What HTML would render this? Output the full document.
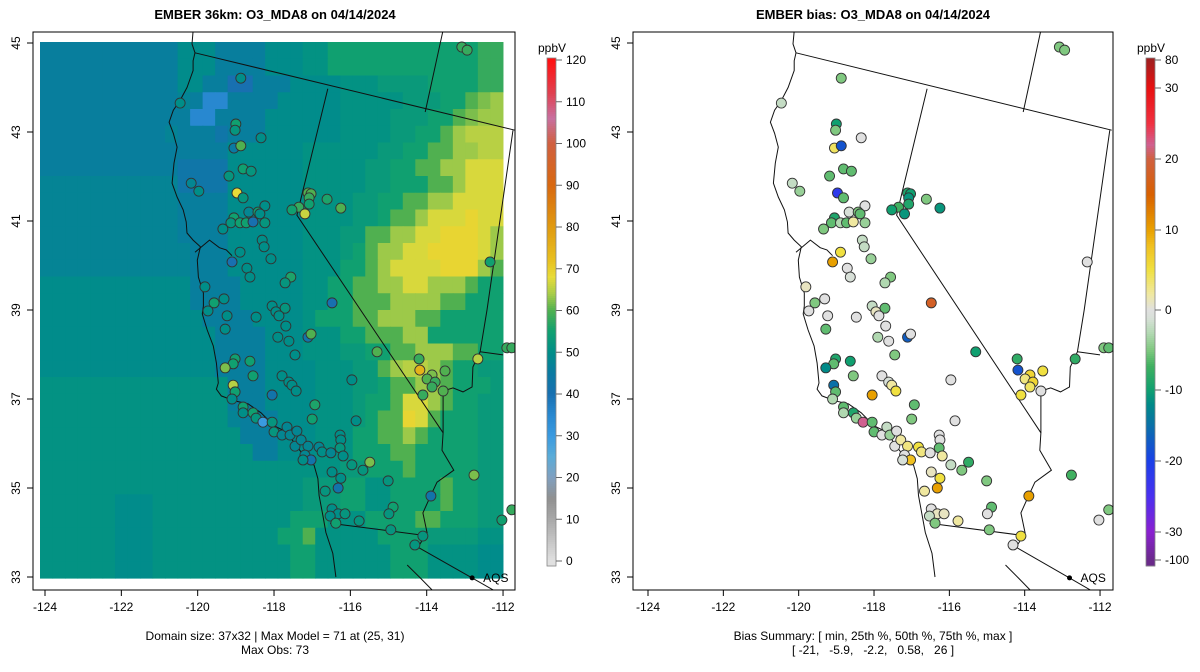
<!DOCTYPE html>
<html><head><meta charset="utf-8"><title>EMBER O3_MDA8</title>
<style>
html,body{margin:0;padding:0;background:#fff;}
svg{display:block;font-family:"Liberation Sans",sans-serif;}
</style></head>
<body>
<svg id="fig" width="1200" height="672" viewBox="0 0 1200 672">
  <defs>
    <clipPath id="clipL"><rect x="33" y="32" width="482" height="558"/></clipPath>
    <clipPath id="clipR"><rect x="633" y="32" width="480" height="558"/></clipPath>
  </defs>
  <text x="275" y="19" text-anchor="middle" font-size="13" font-weight="bold">EMBER 36km: O3_MDA8 on 04/14/2024</text>
  <text x="873" y="19" text-anchor="middle" font-size="13" font-weight="bold">EMBER bias: O3_MDA8 on 04/14/2024</text>
  <g id="heat" clip-path="url(#clipL)"></g>
  <g id="geoL" clip-path="url(#clipL)"></g>
  <g id="geoR" clip-path="url(#clipR)"></g>
  <g id="ptsL" clip-path="url(#clipL)"></g>
  <g id="ptsR" clip-path="url(#clipR)"></g>
  <g id="axes"></g>
  <g id="cbL"></g>
  <g id="cbR"></g>
  <text x="275" y="640" text-anchor="middle" font-size="12">Domain size: 37x32 | Max Model = 71 at (25, 31)</text>
  <text x="275" y="654" text-anchor="middle" font-size="12">Max Obs: 73</text>
  <text x="873" y="640" text-anchor="middle" font-size="12">Bias Summary: [ min, 25th %, 50th %, 75th %, max ]</text>
  <text x="873" y="654" text-anchor="middle" font-size="12" xml:space="preserve">[ -21,   -5.9,   -2.2,   0.58,   26 ]</text>
</svg>
<script>
// ---------- data ----------
const xTicks = [-124,-122,-120,-118,-116,-114,-112];
const yTicks = [33,35,37,39,41,43,45];
const obsTicks = [0,10,20,30,40,50,60,70,80,90,100,110,120];
const biasTicks = [80,30,20,10,0,-10,-20,-30,-100];
const codeVals = {a:40,b:43,c:46,d:47.5,e:49.5,f:51,g:53,h:55,i:56,j:58,k:60,l:62,m:63.5,n:65,o:67,p:69,z:35};
const gridRows = [
"c11e3c4e3f2h12j2","c11e3c4e3f2h12j2","c11e2c2a2c3e4f3g4h4j2","c11d1c1z2c4e5f5g3h2k1l1m1",
"c12z2c4e6f4g3h2k1l1m2","c10d1c3b1c3e6f4g2h2k1m1n3","c15e6f6g2h2k2m2n2","c11b4e6f5g2h2k2m2o3",
"d11b4e6f5g2h3k2m1o3","d11c4e6f4g2h2k2m2o4","d11c4e6f4g2h1k2m1o3p1o2","d11c4e6f3g2k2m2o2p3o1m1",
"d12c3e6f3g1h1k1m2o2p4o1m1","d12c3e6f3h2k1m1o4p3m1k1","e12c4e5f2h2k2m2o2m3k1h2","e12c4e5f2h2k3m4k2h3",
"e13c4e4f1h3k2m3k2h5","e14c4e3f3h2k3m2h6","e14c4e3f3g2h2k2m3k2h2","e14c4e4f3g2k1m1n2m1k1h2g2",
"f15c3e4f3g2h1k2m2k1h3g1","f15c3e4f3g1h2k1o2m1k1h2g2","f15d1c3e3f3g1h1k2p1o1k1h3g2","f16c3e3f3h2k2m1k1h4g2",
"f17c2e3f3h3k2h5g2","f21f3g2h3k1h5g2","f18f3g3h2f2h4k1h2g2","f6e3f9f3g3h2f2h4k1h2g2",
"f6e3f9f2h3f3h4k2h3g2","f6e3f9f1h2k1f5h4g4f2","f6e3f9f2h2f6h3f4e2","f6e3f9f2h2f6h3f4e2"];
const siteLon = [-118.87,-120.46,-119.00,-119.02,-118.34,-119.05,-118.87,-118.81,-118.60,-119.18,-120.17,-119.97,-118.97,-118.81,-118.24,-118.66,-118.42,-118.37,-119.05,-119.13,-118.89,-118.73,-118.55,-118.24,-119.34,-118.31,-118.26,-118.89,-119.10,-118.08,-118.71,-118.63,-117.56,-117.71,-119.81,-119.57,-119.31,-116.48,-118.05,-117.71,-117.95,-117.87,-119.73,-119.23,-119.28,-118.47,-117.69,-117.90,-117.61,-117.11,-117.03,
-117.11,-117.03,-117.08,-117.08,-117.35,-117.53,-117.19,-116.61,-116.25,-113.08,-112.94,-112.34,
-117.45,-115.30,-119.02,-119.07,-119.28,-118.63,-118.55,-117.79,-117.61,-117.53,-117.42,-118.05,-119.07,-119.02,-119.10,-115.96,-116.93,-117.00,-118.81,-118.81,-118.55,-118.47,-118.29,-118.05,-118.00,-117.79,-117.66,-117.58,-117.40,-117.45,-117.29,-117.11,-117.19,-117.03,-117.24,-116.82,-116.74,-116.51,-116.27,-116.25,-116.27,-116.19,-115.85,-115.96,-115.67,-115.49,-116.48,-116.25,-116.32,-116.66,-116.48,-116.32,-116.14,-116.53,-116.38,-115.77,-115.01,-114.88,-114.99,-114.94,-114.10,-114.31,-113.89,-112.76,-112.03,-111.77,-111.90,-111.77,-112.66,-114.20,-114.18,-113.52,-113.86,-113.99,-113.78,-113.86,-113.57,-114.10];
const siteLat = [44.21,43.65,43.18,43.04,42.87,42.64,42.69,42.17,42.12,42.01,41.85,41.67,41.63,41.52,41.34,41.20,41.20,41.16,41.07,40.96,40.96,40.96,40.98,40.96,40.82,40.57,40.42,40.30,40.08,40.15,39.94,39.74,39.74,39.61,39.52,39.16,39.25,39.16,39.09,39.04,38.96,38.87,38.98,38.87,38.57,38.84,38.64,38.39,38.30,38.39,38.46,
41.63,41.61,41.52,41.38,41.31,41.25,41.16,41.49,41.29,44.91,44.84,40.08,
37.99,38.06,37.90,37.79,37.70,37.85,37.52,37.52,37.38,37.31,37.18,37.09,37.31,37.16,37.00,37.43,36.87,36.55,36.82,36.69,36.69,36.57,36.48,36.48,36.26,36.19,36.37,36.19,36.28,35.94,36.08,35.94,35.74,35.63,35.63,35.92,35.81,35.79,36.19,36.08,35.90,35.72,36.51,35.52,35.40,35.58,35.36,35.22,35.00,34.93,34.53,34.42,34.42,34.37,34.21,34.26,35.16,34.57,34.42,34.06,33.92,33.72,34.82,35.29,34.28,34.51,38.15,38.15,37.90,37.90,37.65,37.63,37.54,37.45,37.38,37.27,37.18,37.09];
const siteObs = [50,50,55,52,50,45,60,55,52,52,48,50,68,52,50,48,55,50,55,52,55,55,40,52,50,50,50,50,40,50,50,50,56,52,50,55,50,40,50,52,50,50,50,50,50,50,50,50,50,42,60,
60,60,58,55,58,55,66,56,60,58,58,55,
50,60,55,55,62,55,55,50,50,50,50,42,65,55,50,50,56,55,55,50,55,52,30,52,52,48,48,48,48,48,48,48,48,42,50,48,50,48,50,50,52,50,50,52,52,62,50,50,42,52,50,50,52,50,55,52,52,55,52,52,52,52,42,62,55,58,58,58,65,58,75,60,62,60,58,58,60,58];
const siteBias = [-5,-2,-10,-5,0,4,-18,-6,-6,-6,-2,-4,-22,-6,0,-1,-5,-6,-9,-6,-3,-6,2,-4,-5,-2,-2,5,10,-4,0,-1,-5,-3,1,-5,0,18,-2,-6,1,0,0,0,-6,0,0,-3,0,-17,0,
-9,-10,-11,-9,-7,-10,-11,-5,-11,-5,-5,0,
-5,-10,-9,-6,-12,-10,-5,0,-1,2,5,10,-15,-6,-3,0,-6,-5,-6,-3,-9,-4,22,-6,-6,0,-2,-4,0,0,2,3,0,8,-1,5,3,0,0,0,-6,2,0,-2,-5,-8,1,5,10,2,0,1,1,-2,-5,2,-5,-6,0,-5,5,0,10,-7,0,-5,-5,-6,-8,-8,-18,5,6,3,6,4,0,5];
// geography (map units)
const geoLines = [
 [[-120.12,45.27],[-120.15,44.98],[-120.07,44.78],[-120.12,44.60],[-120.12,44.38],[-120.28,44.00],[-120.46,43.71],[-120.64,43.49],[-120.75,43.22],[-120.64,42.97],[-120.54,42.66],[-120.62,42.30],[-120.67,41.85],[-120.54,41.54],[-120.38,41.25],[-120.30,40.98],[-120.28,40.73],[-120.12,40.57],[-119.93,40.42],[-120.01,40.12],[-119.98,39.74],[-119.85,39.38],[-119.85,39.09],[-119.88,38.91],[-119.75,38.55],[-119.59,38.19],[-119.51,37.81],[-119.46,37.36],[-119.51,37.22],[-119.38,37.07],[-119.04,36.96],[-118.68,36.89],[-118.34,36.69],[-118.00,36.40],[-117.63,36.24],[-117.48,36.02],[-117.22,35.73],[-116.95,35.51],[-116.85,35.21],[-116.82,34.83],[-116.72,34.38],[-116.64,34.00],[-116.46,33.53],[-116.38,33.00]],
 [[-120.07,44.78],[-111.69,43.04]],
 [[-116.59,43.97],[-117.40,41.13],[-113.57,36.24],[-113.60,35.85],[-113.29,35.40],[-113.73,35.13],[-113.91,34.80],[-114.10,34.44],[-113.99,33.99],[-114.23,33.67]],
 [[-113.57,45.29],[-114.04,43.45]],
 [[-111.74,43.04],[-112.42,39.00],[-112.60,38.06],[-112.79,37.72],[-112.81,37.27],[-113.05,37.16],[-113.31,37.25],[-113.57,37.18],[-113.57,36.24]],
 [[-112.60,38.06],[-112.00,37.99]],
 [[-116.53,34.21],[-114.10,33.94]],
 [[-114.23,33.67],[-112.81,32.98],[-112.26,32.71]],
 [[-120.07,40.30],[-119.69,40.57],[-119.43,40.40],[-119.25,40.35],[-119.10,40.22]],
 [[-114.51,33.27],[-114.17,32.98],[-113.86,32.71]]
];
const aqsMark = [-112.81,32.98];

// ---------- scales ----------
const panels = {
  L:{x0:45, sx:38.17},
  R:{x0:648, sx:37.67}
};
function xS(p,lon){return panels[p].x0 + (lon+124)*panels[p].sx;}
function yS(lat){return 577 - (lat-33)*44.5;}
const gridCol = c => 40 + c*12.51;
const gridRow = r => 42 + r*16.75;

function hex2rgb(h){return [parseInt(h.substr(1,2),16),parseInt(h.substr(3,2),16),parseInt(h.substr(5,2),16)];}
function interp(stops,v){
  if(v<=stops[0][0]) return stops[0][1];
  if(v>=stops[stops.length-1][0]) return stops[stops.length-1][1];
  for(let i=0;i<stops.length-1;i++){
    const a=stops[i],b=stops[i+1];
    if(v>=a[0]&&v<=b[0]){
      const t=(v-a[0])/(b[0]-a[0]);const A=hex2rgb(a[1]),B=hex2rgb(b[1]);
      return 'rgb('+A.map((x,k)=>Math.round(x+(B[k]-x)*t)).join(',')+')';
    }
  }
}
const obsStops=[[0,'#e0e0e0'],[10,'#a8a8a8'],[15,'#909090'],[20,'#80a0c0'],[25,'#5aacd8'],[30,'#3a9ae0'],[35,'#2888d0'],[40,'#1870b0'],[45,'#0a7aa2'],[50,'#008e88'],[55,'#10a070'],[60,'#50b050'],[64,'#a8cc48'],[68,'#e8dc38'],[72,'#e8c020'],[80,'#e09a10'],[90,'#d86810'],[100,'#d06040'],[106,'#c870a0'],[112,'#e04050'],[120,'#ff1010']];
const biasStops=[[-100,'#6a2a8a'],[-30,'#8a20d0'],[-25,'#4a30f0'],[-20,'#1a40e8'],[-15,'#0a70a8'],[-12,'#008a88'],[-10,'#10a070'],[-7,'#40b060'],[-5,'#80c880'],[-3,'#b0d8b0'],[-1,'#d8e0d8'],[0,'#e0e0e0'],[2,'#f0e8a0'],[5,'#f0e040'],[8,'#f0c020'],[10,'#e8a000'],[15,'#d86000'],[20,'#d06040'],[22,'#d06090'],[25,'#f03040'],[30,'#e81010'],[80,'#a02020']];
const obsColor=v=>interp(obsStops,v);
const biasColor=v=>interp(biasStops,v);
const obsY=v=>561 - v*4.175;
const biasPos=[[-100,560],[-30,532],[-20,461],[-10,390],[0,310],[10,230],[20,159],[30,88],[80,60]];
function biasY(v){for(let i=0;i<biasPos.length-1;i++){const a=biasPos[i],b=biasPos[i+1];if(v>=a[0]&&v<=b[0])return a[1]+(v-a[0])/(b[0]-a[0])*(b[1]-a[1]);}return v<0?560:60;}
function biasInv(y){for(let i=0;i<biasPos.length-1;i++){const a=biasPos[i],b=biasPos[i+1];if(y<=a[1]&&y>=b[1])return a[0]+(y-a[1])/(b[1]-a[1])*(b[0]-a[0]);}return y>560?-100:80;}

const NS='http://www.w3.org/2000/svg';
function mk(tag,attrs,parent){const e=document.createElementNS(NS,tag);for(const k in attrs)e.setAttribute(k,attrs[k]);parent.appendChild(e);return e;}

// ---------- heatmap ----------
const heat=document.getElementById('heat');
gridRows.forEach((row,r)=>{
  const vals=[];const re=/([a-z])(\d+)/g;let m;
  while((m=re.exec(row))){for(let k=0;k<+m[2];k++)vals.push(codeVals[m[1]]);}
  while(vals.length<37)vals.push(vals[vals.length-1]);
  for(let c=0;c<37;c++){
    const e=mk('rect',{x:gridCol(c),y:gridRow(r),width:gridCol(c+1)-gridCol(c)+0.6,height:gridRow(r+1)-gridRow(r)+0.6,fill:obsColor(vals[c])},heat);
    
    
  }
});

// ---------- geography ----------
['L','R'].forEach(p=>{
  const g=document.getElementById('geo'+p);
  geoLines.forEach(line=>{
    const d=line.map((pt,i)=>(i?'L':'M')+xS(p,pt[0]).toFixed(1)+','+yS(pt[1]).toFixed(1)).join(' ');
    const e=mk('path',{d:d,fill:'none',stroke:'#111',"stroke-width":1},g);
    
    
  });
});

// ---------- points ----------
['L','R'].forEach(p=>{
  const g=document.getElementById('pts'+p);
  for(let i=0;i<siteLon.length;i++){
    const col = p==='L'?obsColor(siteObs[i]):biasColor(siteBias[i]);
    const e=mk('circle',{cx:xS(p,siteLon[i]),cy:yS(siteLat[i]),r:5,fill:col,stroke:'#333',"stroke-width":0.9},g);
    
    
  }
  const a=mk('circle',{cx:xS(p,aqsMark[0]),cy:yS(aqsMark[1]),r:2.5,fill:'#000'},g);
  
  
  const t=mk('text',{x:xS(p,aqsMark[0])+11,y:yS(aqsMark[1])+4,"font-size":12},g);
  t.textContent='AQS';
  
  
});

// ---------- axes ----------
const ax=document.getElementById('axes');
[['L',33,515,20],['R',633,1113,620]].forEach(([p,x1,x2,ly])=>{
  const f=mk('rect',{x:x1,y:32,width:x2-x1,height:558,fill:'none',stroke:'#000',"stroke-width":1},ax);
  
  
  xTicks.forEach(v=>{
    const x=xS(p,v);
    const l=mk('line',{x1:x,x2:x,y1:590,y2:596,stroke:'#000'},ax);
    
    
    const t=mk('text',{x:x,y:611,"font-size":12,"text-anchor":"middle"},ax);
    t.textContent=v;
    
    
  });
  yTicks.forEach(v=>{
    const y=yS(v);
    const l=mk('line',{x1:x1-6,x2:x1,y1:y,y2:y,stroke:'#000'},ax);
    
    
    const t=mk('text',{x:ly,y:y,"font-size":12,"text-anchor":"middle",transform:'rotate(-90 '+ly+' '+y+')'},ax);
    t.textContent=v;
    
    
  });
});

// ---------- colorbars ----------
function colorbar(id,x,valAt,colorFn,ticks,yFn){
  const g=document.getElementById(id);
  for(let y=58;y<566;y+=2){
    const e=mk('rect',{x:x,y:y,width:9,height:2.4,fill:colorFn(valAt(y+1))},g);
    
    
  }
  const b=mk('rect',{x:x,y:58,width:9,height:508,fill:'none',stroke:'#888',"stroke-width":0.8},g);
  
  
  ticks.forEach(v=>{
    const y=yFn(v);
    const l=mk('line',{x1:x+9,x2:x+15,y1:y,y2:y,stroke:'#666'},g);
    
    
    const t=mk('text',{x:x+19,y:y+4,"font-size":12},g);
    t.textContent=v;
    
    
  });
  const u=mk('text',{x:x+5,y:52,"font-size":12,"text-anchor":"middle"},g);
  u.textContent='ppbV';
  
  
}
colorbar('cbL',547,y=>(561-y)/4.175,obsColor,obsTicks,obsY);
colorbar('cbR',1146,biasInv,biasColor,biasTicks,biasY);
</script>
</body></html>
